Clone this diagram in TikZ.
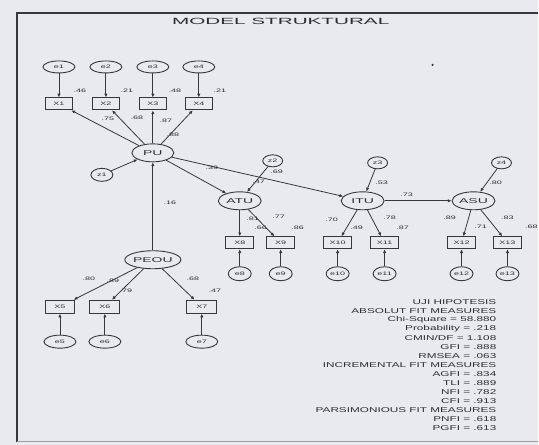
\documentclass[tikz,border=0pt]{standalone}
\usepackage{fontspec}
\setmainfont{Liberation Sans}
\usetikzlibrary{shapes.geometric,arrows.meta}
\definecolor{bg}{RGB}{233,234,239}
\definecolor{lc}{RGB}{55,55,62}
\definecolor{tc}{RGB}{45,45,52}
\newcommand{\stx}[2][1.8]{\scalebox{#1}[1]{#2}}
\begin{document}
\begin{tikzpicture}[x=1pt,y=-1pt,
  lat/.style={ellipse,draw=lc,line width=0.9pt,minimum width=42pt,minimum height=18pt,inner sep=0pt,text=tc,font=\fontsize{7}{8}\selectfont},
  err/.style={ellipse,draw=lc,line width=0.9pt,minimum width=32pt,minimum height=12pt,inner sep=0pt,text=tc,font=\fontsize{5}{6}\selectfont},
  dist/.style={err,minimum width=22pt,minimum height=13pt},
  lerr/.style={err,minimum width=23pt,minimum height=14pt},
  obs/.style={rectangle,draw=lc,line width=0.9pt,minimum width=27pt,minimum height=12pt,inner sep=0pt,text=tc,font=\fontsize{5}{6}\selectfont},
  arr/.style={draw=lc,line width=0.8pt,-{Latex[length=3.8pt,width=3.4pt]}},
  lab/.style={inner sep=0pt,text=tc,font=\fontsize{5}{6}\selectfont},
  stat/.style={anchor=east,inner sep=0pt,text=tc,font=\fontsize{7}{8}\selectfont},
  ttl/.style={inner sep=0pt,text=tc,font=\fontsize{9}{10}\selectfont}
]
\fill[bg] (0,0) rectangle (539,445);
\draw[lc,line width=1.1pt] (539,13) -- (17,13) -- (17,442);
\draw[lc!50,line width=0.6pt] (17,442) -- (539,442);
\node[ttl] (title) at (281,21) {\stx[2.3]{MODEL STRUKTURAL}};
\fill[lc] (433,65) circle (1.2pt);

% PU block
\foreach \i/\x in {1/59,2/106,3/153,4/199}{
  \node[err] (e\i) at (\x,67) {\stx{e\i}};
  \node[obs] (x\i) at (\x,104) {\stx{X\i}};
}
\node[lat] (pu) at (153,153) {\stx[2]{PU}};
\node[dist] (z1) at (102,175) {\stx{z1}};
\foreach \i in {1,...,4}{
  \draw[arr] (e\i) -- (x\i);
  \draw[arr] (pu) -- (x\i);
}
\draw[arr] (z1) -- (pu);
\node[lab] at (80,91) {\stx{.46}};
\node[lab] at (127,91) {\stx{.21}};
\node[lab] at (175,91) {\stx{.48}};
\node[lab] at (220,91) {\stx{.21}};
\node[lab] at (108,119) {\stx{.75}};
\node[lab] at (137,118) {\stx{.68}};
\node[lab] at (166,121) {\stx{.87}};
\node[lab] at (173,135) {\stx{.88}};

% PEOU block
\node[lat,minimum width=40pt] (peou) at (153,260) {\stx[2]{PEOU}};
\node[obs,minimum width=30pt,minimum height=13pt] (x5) at (60,307) {\stx{X5}};
\node[obs,minimum width=30pt,minimum height=13pt] (x6) at (105,307) {\stx{X6}};
\node[obs,minimum width=30pt,minimum height=13pt] (x7) at (202,307) {\stx{X7}};
\node[err,minimum height=13pt] (e5) at (60,342) {\stx{e5}};
\node[err,minimum height=13pt] (e6) at (105,342) {\stx{e6}};
\node[err,minimum height=13pt] (e7) at (202,342) {\stx{e7}};
\foreach \i in {5,6,7}{
  \draw[arr] (peou) -- (x\i);
  \draw[arr] (e\i) -- (x\i);
}
\draw[arr] (peou) -- (pu);
\node[lab] at (170,203) {\stx{.16}};
\node[lab] at (89,279) {\stx{.80}};
\node[lab] at (113,281) {\stx{.89}};
\node[lab] at (193,279) {\stx{.68}};
\node[lab] at (126,291) {\stx{.79}};
\node[lab] at (215,291) {\stx{.47}};

% structural part
\node[lat,minimum width=43pt] (atu) at (240,201) {\stx[2]{ATU}};
\node[lat,minimum width=43pt] (itu) at (363,201) {\stx[2]{ITU}};
\node[lat,minimum width=43pt] (asu) at (474,201) {\stx[2]{ASU}};
\node[dist,minimum width=20pt,minimum height=12pt] (z2) at (273,161) {\stx{z2}};
\node[dist,minimum width=20pt,minimum height=12pt] (z3) at (378,163) {\stx{z3}};
\node[dist,minimum width=20pt,minimum height=12pt] (z4) at (502,163) {\stx{z4}};
\draw[arr] (pu) -- (atu);
\draw[arr] (pu) -- (itu);
\draw[arr] (itu) -- (asu);
\draw[arr] (z2) -- (atu);
\draw[arr] (z3) -- (itu);
\draw[arr] (z4) -- (asu);
\node[lab] at (212,168) {\stx{.39}};
\node[lab] at (277,172) {\stx{.69}};
\node[lab] at (259,182) {\stx{.47}};
\node[lab] at (382,183) {\stx{.53}};
\node[lab] at (407,195) {\stx{.73}};
\node[lab] at (496,183) {\stx{.80}};

% measurement of ATU, ITU, ASU
\foreach \i/\x/\l in {8/240/atu,9/281/atu,10/338/itu,11/385/itu,12/462/asu,13/508/asu}{
  \node[obs,minimum width=28pt] (x\i) at (\x,243) {\stx{X\i}};
  \node[lerr] (e\i) at (\x,274) {\stx{e\i}};
  \draw[arr] (\l) -- (x\i);
  \draw[arr] (e\i) -- (x\i);
}
\node[lab] at (253,219) {\stx{.81}};
\node[lab] at (279,217) {\stx{.77}};
\node[lab] at (261,228) {\stx{.66}};
\node[lab] at (298,228) {\stx{.86}};
\node[lab] at (332,220) {\stx{.70}};
\node[lab] at (357,228) {\stx{.49}};
\node[lab] at (390,218) {\stx{.78}};
\node[lab] at (403,228) {\stx{.87}};
\node[lab] at (450,218) {\stx{.89}};
\node[lab] at (481,227) {\stx{.71}};
\node[lab] at (508,218) {\stx{.83}};
\node[lab] at (532,227) {\stx{.68}};

% fit statistics
\foreach \t [count=\k from 0] in {UJI HIPOTESIS,ABSOLUT FIT MEASURES,Chi-Square = 58.880,Probability = .218,CMIN/DF = 1.108,GFI = .888,RMSEA = .063,INCREMENTAL FIT MEASURES,AGFI = .834,TLI = .889,NFI = .782,CFI = .913,PARSIMONIOUS FIT MEASURES,PNFI = .618,PGFI = .613}{
  \node[stat] (s\k) at (497,302+9.07*\k) {\stx[1.68]{\t}};
}
\end{tikzpicture}
\end{document}
